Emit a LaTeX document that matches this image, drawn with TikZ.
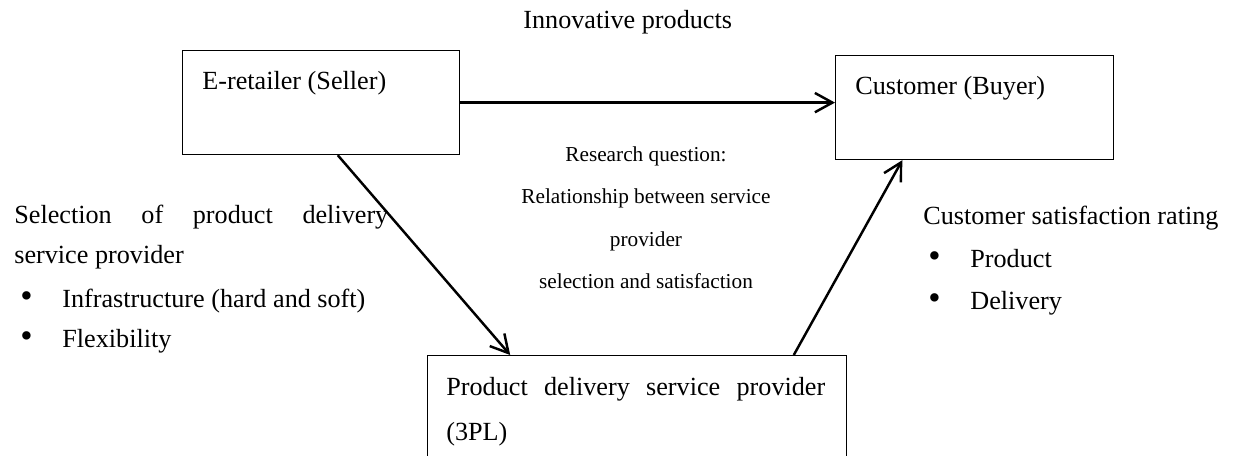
\documentclass[tikz,border=0pt]{standalone}
\usepackage{fontspec}
\setmainfont{Liberation Serif}
\usetikzlibrary{calc,arrows.meta}

\newcommand{\bul}{\makebox[0.84cm][l]{\fontsize{20}{20}\selectfont\textbullet}}

\begin{document}
\begin{tikzpicture}[x=0.02cm,y=-0.02cm,
  box/.style={draw, line width=0.7pt, rectangle, inner sep=0pt, anchor=north west},
  txt/.style={inner sep=0pt, anchor=base west, font=\fontsize{14.9}{18}\selectfont},
  small/.style={inner sep=0pt, anchor=base, font=\fontsize{12.1}{15}\selectfont},
  link/.style={line width=1.4pt, -{Straight Barb[length=10pt,width=11pt,line width=1.4pt]}}]
\useasboundingbox (0,0) rectangle (1235,456);

% the three parties
\node[box, minimum width=5.54cm, minimum height=2.08cm] (seller) at (182,50) {};
\node[box, minimum width=5.56cm, minimum height=2.08cm] (buyer) at (835,55) {};
\node[box, minimum width=8.38cm, minimum height=2.1cm] (tpl) at (427,355) {};

\node[txt] (sellertxt) at ($(seller.north west)+(20,40)$) {E-retailer (Seller)};
\node[txt] (buyertxt) at ($(buyer.north west)+(20,40)$) {Customer (Buyer)};
\node[txt] (tpltxt) at ($(tpl.north west)+(19,40)$)
  {\makebox[7.58cm][s]{Product\hfill delivery\hfill service\hfill provider}};
\node[txt] (tpltxt2) at ($(tpl.north west)+(19,85)$) {(3PL)};

% flows
\draw[link] (seller.east) -- (seller.east -| buyer.west);
\draw[link] ($(seller.south west)!0.56!(seller.south east)$) -- ($(tpl.north west)!0.198!(tpl.north east)$);
\draw[link] ($(tpl.north west)!0.873!(tpl.north east)$) -- ($(buyer.south west)!0.241!(buyer.south east)$);

% labels
\node[txt] (title) at (523,29) {Innovative products};

\node[txt] (select1) at (14,223)
  {\makebox[7.48cm][s]{Selection\hfill of\hfill product\hfill delivery}};
\node[txt] (select2) at (14,263) {service provider};
\node[txt] (infra) at (20,307) {\bul Infrastructure (hard and soft)};
\node[txt] (flex) at (20,347) {\bul Flexibility};

\node[small] (rq1) at (646,162) {Research question:};
\node[small] (rq2) at (646,204) {Relationship between service};
\node[small] (rq3) at (646,246) {provider};
\node[small] (rq4) at (646,288) {selection and satisfaction};

\node[txt] (rating) at (923,224) {Customer satisfaction rating};
\node[txt] (prod) at (928,267) {\bul Product};
\node[txt] (deliv) at (928,309) {\bul Delivery};

\end{tikzpicture}
\end{document}
